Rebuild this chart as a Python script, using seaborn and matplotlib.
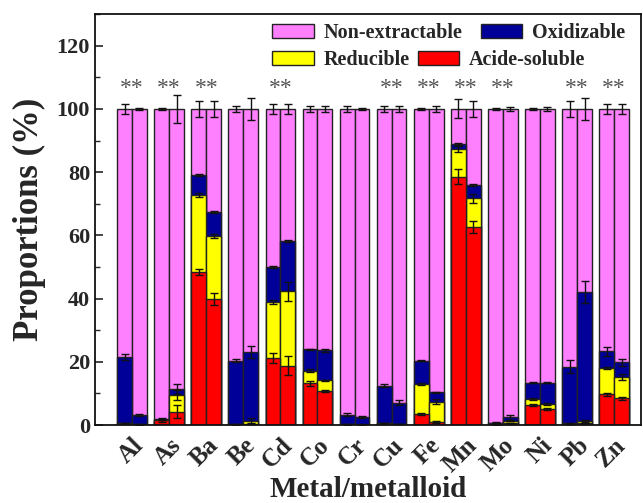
import seaborn as sns
import matplotlib.pyplot as plt
import matplotlib.patches as mpatches
from matplotlib.ticker import MultipleLocator
import pandas as pd
import numpy as np

sns.set_style("ticks")
plt.rcParams["font.family"] = ["Liberation Serif", "DejaVu Serif"]
plt.rcParams["font.weight"] = "bold"

metals = ["Al", "As", "Ba", "Be", "Cd", "Co", "Cr", "Cu", "Fe", "Mn", "Mo", "Ni", "Pb", "Zn"]
samples = ["A", "B"]

# fraction values (%) per metal, pairs (first bar, second bar)
acid = [(0.5, 0.2), (1.5, 4.2), (48.4, 39.9), (0.2, 0.3), (21.2, 18.7), (13.2, 10.8), (0.2, 0.1),
        (0.5, 0.3), (3.4, 0.9), (78.5, 62.6), (0.2, 0.5), (6.2, 5.0), (0.3, 0.5), (9.7, 8.5)]
reducible = [(0.0, 0.0), (0.0, 5.3), (24.4, 19.9), (0.0, 1.0), (17.8, 23.6), (4.0, 3.3), (0.0, 0.0),
             (0.0, 0.0), (9.6, 6.5), (8.8, 9.1), (0.3, 0.9), (2.1, 1.7), (0.2, 0.9), (8.3, 6.8)]
oxidizable = [(21.0, 3.0), (0.4, 1.9), (6.2, 7.7), (20.1, 21.8), (11.0, 15.9), (6.8, 9.5), (3.0, 2.3),
              (12.0, 6.8), (7.3, 2.9), (1.6, 4.2), (0.3, 1.0), (5.1, 6.7), (18.0, 40.7), (5.3, 4.5)]

# error bars (sd) at the top of each cumulative segment
acid_err = [(0.2, 0.1), (0.5, 2.0), (1.0, 2.0), (0.1, 0.1), (1.5, 3.0), (0.8, 0.3), (0.1, 0.1),
            (0.1, 0.1), (0.3, 0.3), (2.4, 2.0), (0.1, 0.2), (0.3, 0.3), (0.1, 0.2), (0.5, 0.5)]
red_err = [(0.0, 0.0), (0.0, 1.5), (0.7, 0.5), (0.0, 0.8), (0.7, 3.0), (0.4, 0.3), (0.0, 0.0),
           (0.0, 0.0), (0.3, 0.8), (1.0, 1.5), (0.1, 0.2), (0.3, 0.3), (0.1, 0.3), (0.4, 1.0)]
oxi_err = [(1.0, 0.2), (0.2, 1.5), (0.3, 0.3), (0.5, 2.0), (0.2, 0.3), (0.2, 0.5), (0.5, 0.3),
           (0.4, 0.8), (0.2, 0.3), (0.3, 0.3), (0.1, 0.7), (0.2, 0.2), (2.0, 3.5), (1.5, 1.0)]
non_err = [(1.5, 0.3), (0.3, 4.5), (2.5, 2.5), (1.0, 3.5), (1.5, 1.5), (1.0, 1.0), (1.0, 0.3),
           (1.0, 1.0), (0.3, 1.0), (3.0, 2.5), (0.3, 0.7), (0.3, 0.7), (2.5, 3.5), (1.5, 1.5)]

starred = ["Al", "As", "Ba", "Cd", "Cu", "Fe", "Mn", "Mo", "Pb", "Zn"]

colors = {"Non-extractable": "#FF80FF", "Oxidizable": "#000099",
          "Reducible": "#FFFF00", "Acide-soluble": "#FF0000"}

rows = []
for i, m in enumerate(metals):
    for j, s in enumerate(samples):
        a = acid[i][j]
        r = a + reducible[i][j]
        o = r + oxidizable[i][j]
        rows.append({"metal": m, "sample": s, "acid": a, "red": r, "oxi": o, "non": 100.0,
                     "e_acid": acid_err[i][j], "e_red": red_err[i][j],
                     "e_oxi": oxi_err[i][j], "e_non": non_err[i][j]})
df = pd.DataFrame(rows)

fig = plt.figure(figsize=(6.43, 5.03), dpi=100)
ax = fig.add_axes([0.1477, 0.155, 0.849, 0.817])

layers = [("non", "Non-extractable"), ("oxi", "Oxidizable"),
          ("red", "Reducible"), ("acid", "Acide-soluble")]
for col, name in layers:
    sns.barplot(data=df, x="metal", y=col, hue="sample", order=metals, hue_order=samples,
                palette=[colors[name]] * 2, saturation=1, errorbar=None, edgecolor="#222222",
                linewidth=1.0, legend=False, ax=ax)

# error bars
offs = {"A": -0.2, "B": 0.2}
xpos = np.array([metals.index(m) + offs[s] for m, s in zip(df["metal"], df["sample"])])
for col in ["acid", "red", "oxi", "non"]:
    mask = df["e_" + col].values > 0
    ax.errorbar(xpos[mask], df[col].values[mask], yerr=df["e_" + col].values[mask],
                fmt="none", ecolor="#111111", elinewidth=1.0, capsize=3, capthick=1.0)

for m in starred:
    ax.text(metals.index(m), 106.5, "**", ha="center", va="center", fontsize=17,
            color="#555555", fontweight="normal")

ax.set_xlim(-1.0, 13.72)
ax.set_ylim(0, 130)
ax.yaxis.set_major_locator(MultipleLocator(20))
ax.yaxis.set_minor_locator(MultipleLocator(10))
ax.tick_params(axis="y", which="major", direction="in", length=6, width=1.2, labelsize=16)
ax.tick_params(axis="y", which="minor", direction="in", length=3.5, width=1.0)
ax.tick_params(axis="x", length=0, labelsize=18, pad=6)
for lab in ax.get_yticklabels():
    lab.set_fontweight("bold")
ax.set_xticks(range(len(metals)))
ax.set_xticklabels(metals, rotation=45, ha="right", rotation_mode="anchor", fontweight="bold")
for sp in ax.spines.values():
    sp.set_visible(True)
    sp.set_linewidth(1.3)
    sp.set_color("#111111")

ax.set_xlabel("Metal/metalloid", fontsize=21, fontweight="bold", labelpad=0)
ax.set_ylabel("Proportions (%)", fontsize=25, fontweight="bold", labelpad=8)

def patch(name):
    return mpatches.Patch(facecolor=colors[name], edgecolor="#222222", linewidth=1.0, label=name)

leg1 = ax.legend(handles=[patch("Non-extractable"), patch("Oxidizable")], ncol=2,
                 loc="center left", bbox_to_anchor=(0.325, 0.954), frameon=False,
                 borderpad=0, borderaxespad=0, handlelength=2.05, handleheight=0.7,
                 handletextpad=0.5, columnspacing=0.9,
                 prop={"family": "Liberation Serif", "weight": "bold", "size": 14.5})
ax.add_artist(leg1)
ax.legend(handles=[patch("Reducible"), patch("Acide-soluble")], ncol=2,
          loc="center left", bbox_to_anchor=(0.325, 0.888), frameon=False,
          borderpad=0, borderaxespad=0, handlelength=2.05, handleheight=0.7,
          handletextpad=0.5, columnspacing=0.4,
          prop={"family": "Liberation Serif", "weight": "bold", "size": 14.5})

fig.savefig("out.png", dpi=100)
plt.close(fig)
